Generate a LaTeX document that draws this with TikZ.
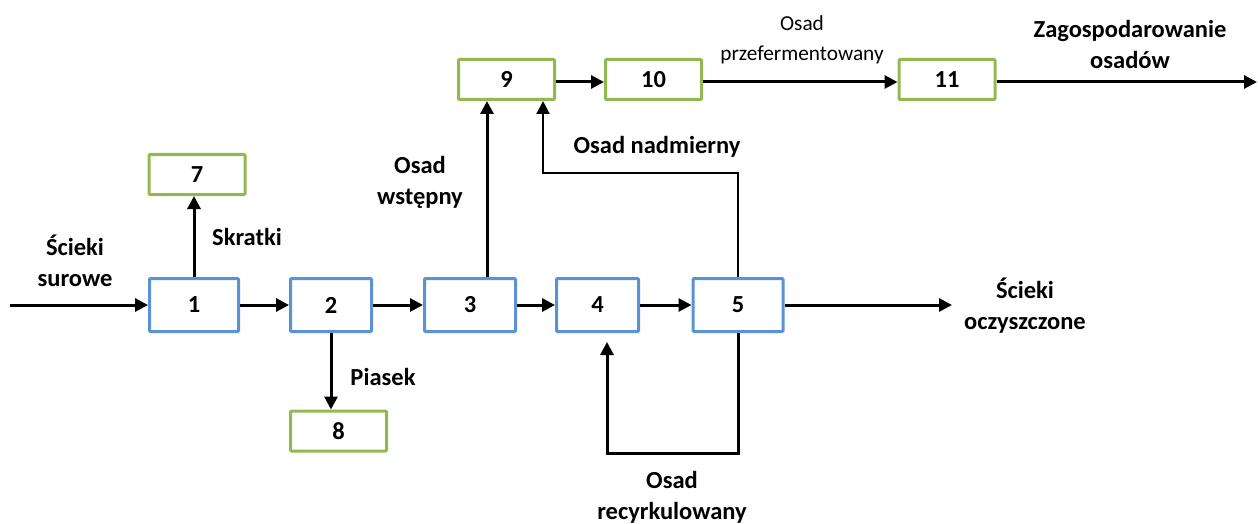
\documentclass[tikz,border=0pt]{standalone}
\usepackage{fontspec}
\setmainfont{Carlito}
\usetikzlibrary{arrows.meta}
\definecolor{boxblue}{RGB}{91,145,213}
\definecolor{boxgreen}{RGB}{146,185,80}
\tikzset{
  procbox/.style={draw=boxblue, line width=3pt, rectangle, rounded corners=1pt, minimum height=53pt, inner sep=0pt, font=\fontsize{24.5}{28}\selectfont\bfseries},
  sinkbox/.style={draw=boxgreen, line width=3pt, rectangle, rounded corners=1pt, minimum height=40pt, minimum width=96pt, inner sep=0pt, font=\fontsize{24.5}{28}\selectfont\bfseries},
  arr/.style={draw=black, line width=3pt, -{Triangle[length=13pt,width=13pt]}},
  thinarr/.style={draw=black, line width=2.2pt, -{Triangle[length=13pt,width=13pt]}},
  lbl/.style={align=center, inner sep=0pt, font=\fontsize{24.5}{31}\selectfont\bfseries},
  smalllbl/.style={align=center, inner sep=0pt, font=\fontsize{21.3}{30}\selectfont},
}
\begin{document}
\begin{tikzpicture}[x=1pt,y=-1pt]
\useasboundingbox (0,0) rectangle (1258,524);
% process boxes
\node[procbox, minimum width=89pt] (b1) at (194,305) {1};
\node[procbox, minimum width=81pt] (b2) at (331,305) {2};
\node[procbox, minimum width=91pt] (b3) at (470,305) {3};
\node[procbox, minimum width=82pt] (b4) at (597.5,305) {4};
\node[procbox, minimum width=90pt] (b5) at (738,305) {5};
% sink boxes
\node[sinkbox] (b7) at (197,174.5) {7};
\node[sinkbox] (b8) at (338.5,431) {8};
\node[sinkbox] (b9) at (506.5,79.5) {9};
\node[sinkbox] (b10) at (653.5,79.5) {10};
\node[sinkbox] (b11) at (947,79.5) {11};
% free ends
\coordinate (in) at (10,305);
\coordinate (out) at (952,305);
\coordinate (fin) at (1257,82);
\coordinate (n1) at (543,173);
\coordinate (r1) at (607,453);
\coordinate (r2) at (607,342);
% main line
\draw[arr] (in) -- (b1.west);
\draw[arr] (b1) -- (b2);
\draw[arr] (b2) -- (b3);
\draw[arr] (b3) -- (b4);
\draw[arr] (b4) -- (b5);
\draw[arr] (b5) -- (out);
% branches
\draw[arr] (b1.north) -- (b1.north |- b7.south);
\draw[arr] (b2.south) -- (b2.south |- b8.north);
\draw[arr] ([xshift=17pt]b3.north) -- ([xshift=17pt]b3.north |- b9.south);
\draw[thinarr] (b5.north) |- (n1) -- (n1 |- b9.south);
\draw[arr] (b5.south) |- (r1) -- (r2);
% sludge line
\draw[arr] (b9.east |- 0,82) -- (b10.west |- 0,82);
\draw[arr] (b10.east |- 0,82) -- (b11.west |- 0,82);
\draw[arr] (b11.east |- 0,82) -- (fin);
% labels
\node[lbl] (lin) at (75,261) {Ścieki\\surowe};
\node[lbl] (lskr) at (247,237) {Skratki};
\node[lbl] (lpia) at (383,377) {Piasek};
\node[lbl] (lwst) at (420,182) {Osad\\wstępny};
\node[lbl] (lnad) at (657,147) {Osad nadmierny};
\node[smalllbl] (lprz) at (802,40) {Osad\\przefermentowany};
\node[lbl] (lzag) at (1130,44) {Zagospodarowanie\\osadów};
\node[lbl] (lout) at (1025,306) {Ścieki\\oczyszczone};
\node[lbl] (lrec) at (672,497) {Osad\\recyrkulowany};
\end{tikzpicture}
\end{document}
